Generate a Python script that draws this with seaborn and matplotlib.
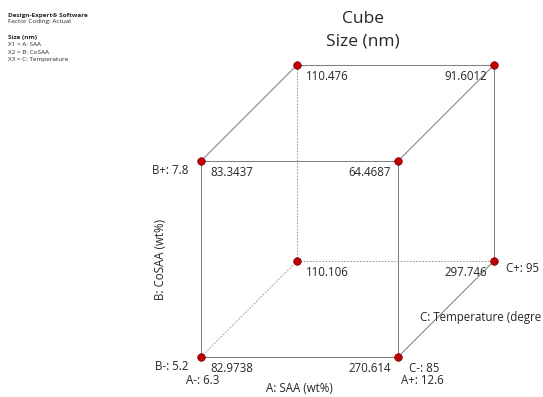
import matplotlib
matplotlib.use("Agg")
import matplotlib.pyplot as plt
import seaborn as sns
import pandas as pd
import numpy as np

sns.set_style("white")
plt.rcParams['font.family'] = ['Open Sans', 'DejaVu Sans']

# Data: coded factor levels (0 = low, 1 = high) and response
A_level = [0, 1, 0, 1, 0, 1, 0, 1]
B_level = [0, 0, 1, 1, 0, 0, 1, 1]
C_level = [0, 0, 0, 0, 1, 1, 1, 1]
size_nm = [82.9738, 270.614, 83.3437, 64.4687, 110.106, 297.746, 110.476, 91.6012]

A_labels = ["A-: 6.3", "A+: 12.6"]
B_labels = ["B-: 5.2", "B+: 7.8"]
C_labels = ["C-: 85", "C+: 95"]

# projection of the cube onto the page (pixel-like coordinates)
X0, Y0 = 201, 357
AX, BY, CX, CY = 197, 196, 96, 96

def proj(a, b, c):
    return X0 + AX * a + CX * c, Y0 - BY * b - CY * c

df = pd.DataFrame({"A": A_level, "B": B_level, "C": C_level, "size": size_nm})
df["x"] = [proj(a, b, c)[0] for a, b, c in zip(df.A, df.B, df.C)]
df["y"] = [proj(a, b, c)[1] for a, b, c in zip(df.A, df.B, df.C)]

fig = plt.figure(figsize=(5.43, 3.97), dpi=100)
ax = fig.add_axes([0, 0, 1, 1])
ax.set_xlim(0, 543)
ax.set_ylim(397, 0)
ax.axis("off")

# edges
edge_col = "#808080"
corners = [(a, b, c) for a in (0, 1) for b in (0, 1) for c in (0, 1)]
for p in corners:
    for q in corners:
        if p < q and sum(abs(np.array(p) - np.array(q))) == 1:
            hidden = (0, 0, 1) in (p, q)
            x1, y1 = proj(*p)
            x2, y2 = proj(*q)
            ax.plot([x1, x2], [y1, y2], color=edge_col if not hidden else "#999999",
                    lw=0.75, ls=(0, (1.5, 1.5)) if hidden else "-", zorder=1)

sns.scatterplot(data=df, x="x", y="y", ax=ax, color="#c00000", s=30,
                edgecolor="#7a0000", linewidth=0.5, zorder=3, legend=False)

fs = 8.3
for _, r in df.iterrows():
    if r.A == 0:
        ax.text(r.x + 9, r.y + 11, f"{r['size']:g}", fontsize=fs, ha="left", va="center")
    else:
        ax.text(r.x - 7, r.y + 11, f"{r['size']:g}", fontsize=fs, ha="right", va="center")

# factor level labels
xa, ya = proj(0, 0, 0)
ax.text(xa - 13, ya + 10, B_labels[0], fontsize=fs, ha="right", va="center")
xb, yb = proj(0, 1, 0)
ax.text(xb - 13, yb + 10, B_labels[1], fontsize=fs, ha="right", va="center")
ax.text(xa + 2, ya + 24, A_labels[0], fontsize=fs, ha="center", va="center")
xr, yr = proj(1, 0, 0)
ax.text(xr + 24, yr + 24, A_labels[1], fontsize=fs, ha="center", va="center")
ax.text(xr + 11, yr + 11, C_labels[0], fontsize=fs, ha="left", va="center")
xc, yc = proj(1, 0, 1)
ax.text(xc + 12, yc + 7, C_labels[1], fontsize=fs, ha="left", va="center")

# axis titles
ax.text((xa + xr) / 2, ya + 32, "A: SAA (wt%)", fontsize=fs, ha="center", va="center")
ax.text(xa - 41, (ya + yb) / 2, "B: CoSAA (wt%)", fontsize=fs, ha="center", va="center",
        rotation=90)
ax.text(541, 318, "C: Temperature (degre", fontsize=fs, ha="right", va="center")

# titles
ax.text(363, 19, "Cube", fontsize=12.5, ha="center", va="center")
ax.text(363, 42, "Size (nm)", fontsize=12.5, ha="center", va="center")

# software notes
sfs = 4.6
ax.text(8, 15, "Design-Expert® Software", fontsize=sfs, fontweight="bold", va="center")
ax.text(8, 22, "Factor Coding: Actual", fontsize=sfs, va="center")
ax.text(8, 37, "Size (nm)", fontsize=sfs, fontweight="bold", va="center")
ax.text(8, 44.5, "X1 = A: SAA", fontsize=sfs, va="center")
ax.text(8, 52, "X2 = B: CoSAA", fontsize=sfs, va="center")
ax.text(8, 59.5, "X3 = C: Temperature", fontsize=sfs, va="center")

fig.savefig("out.png", dpi=100)
